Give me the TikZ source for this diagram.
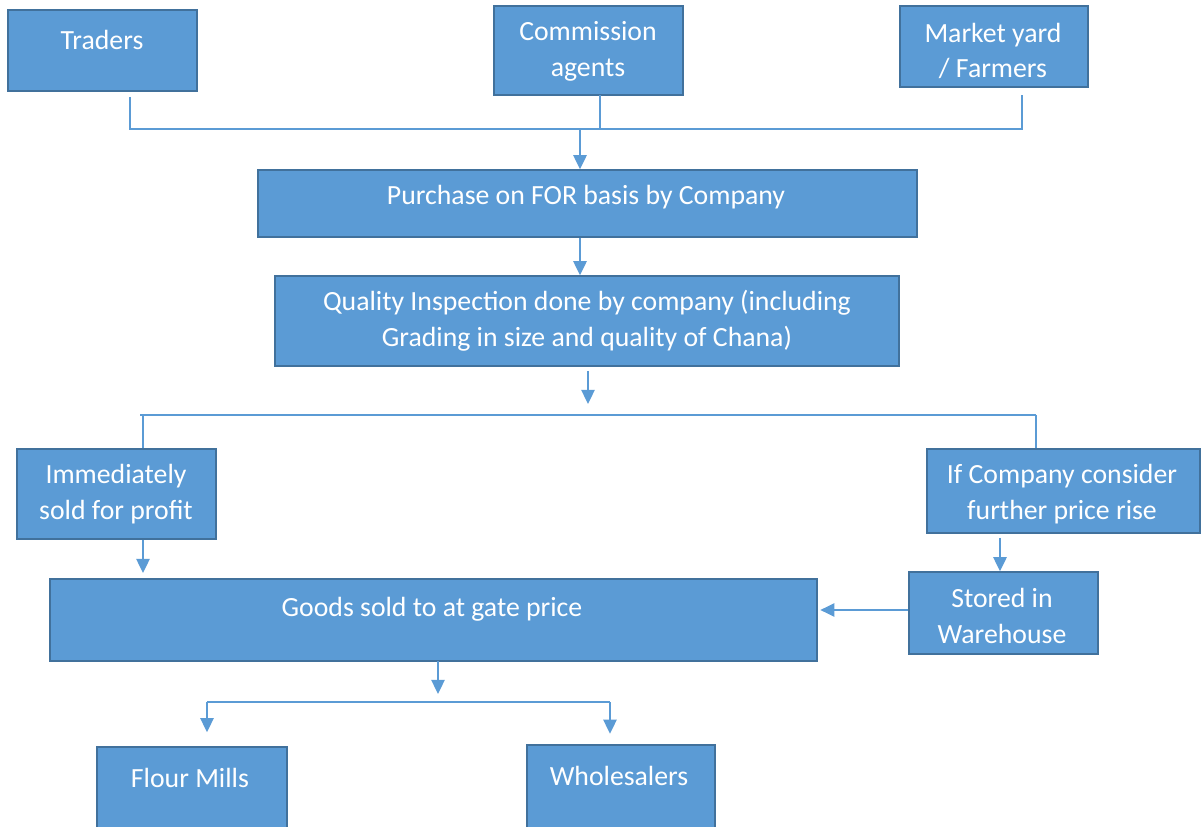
\documentclass[tikz,border=0pt]{standalone}
\usepackage{fontspec}
\setmainfont{Carlito}
\usetikzlibrary{fit,arrows.meta}
\definecolor{boxfill}{HTML}{5B9BD5}
\definecolor{boxline}{HTML}{41719C}
\definecolor{connc}{HTML}{5B9BD5}
\begin{document}
\begin{tikzpicture}[x=0.02cm,y=-0.02cm,
 box/.style={draw=boxline, fill=boxfill, line width=0.8pt, inner sep=0pt},
 txt/.style={text=white, font=\fontsize{15.8}{20.4}\selectfont, align=center, inner sep=0pt},
 conn/.style={draw=connc, line width=1.1pt},
 arr/.style={conn, -{Triangle[width=7.5pt,length=8pt]}}]
\useasboundingbox (0,0) rectangle (1201,827);
\fill[white] (0,0) rectangle (1201,827);

% boxes
\node[box, fit={(8,10) (197,91)}] (traders) {};
\node[box, fit={(494,6) (683,95)}] (comm) {};
\node[box, fit={(900,6) (1088,87)}] (market) {};
\node[box, fit={(258,170) (917,237)}] (purchase) {};
\node[box, fit={(275,276) (899,366)}] (quality) {};
\node[box, fit={(17,449) (216,539)}] (imm) {};
\node[box, fit={(927,449) (1200,533)}] (ifc) {};
\node[box, fit={(50,579) (817,661)}] (goods) {};
\node[box, fit={(909,572) (1098,654)}] (stored) {};
\node[box, fit={(97,747) (287,840)}] (flour) {};
\node[box, fit={(527,745) (715,840)}] (whole) {};

% texts
\node[txt] (traders-t) at (102,40) {Traders};
\node[txt] (comm-t) at (588,51) {Commission\\agents};
\node[txt] (market-t) at (993,51) {Market yard\\/ Farmers};
\node[txt] (purchase-t) at (586,197) {Purchase on FOR basis by Company};
\node[txt] (quality-t) at (587,321) {Quality Inspection done by company (including\\Grading in size and quality of Chana)};
\node[txt] (imm-t) at (116,494) {Immediately\\sold for profit};
\node[txt] (ifc-t) at (1062,494) {If Company consider\\further price rise};
\node[txt] (goods-t) at (432,609) {Goods sold to at gate price};
\node[txt] (stored-t) at (1002,616) {Stored in\\Warehouse};
\node[txt] (flour-t) at (190,778) {Flour Mills};
\node[txt] (whole-t) at (619,776) {Wholesalers};

% top merge
\coordinate (t1) at (130,97);
\coordinate (jl) at (130,129);
\coordinate (jr) at (1022,129);
\coordinate (m1) at (1022,95);
\coordinate (c1) at (600,95);
\coordinate (cj) at (600,129);
\coordinate (jx) at (580,129);
\draw[conn] (t1) -- (jl) -- (jr) -- (m1);
\draw[conn] (c1) -- (cj);
\draw[arr] (jx) -- (purchase.north -| jx);
\draw[arr] (purchase.south -| jx) -- (quality.north -| jx);

% split after quality
\coordinate (q1) at (588,371);
\coordinate (q2) at (588,404);
\coordinate (sl) at (140,415);
\coordinate (sr) at (1036,415);
\coordinate (sli) at (143,415);
\draw[arr] (q1) -- (q2);
\draw[conn] (sl) -- (sr);
\draw[conn] (sli) -- (imm.north -| sli);
\draw[conn] (sr) -- (ifc.north -| sr);

\draw[arr, shorten >=3pt] (imm.south -| sli) -- (goods.north -| sli);
\coordinate (fx) at (1000,538);
\draw[arr] (fx) -- (stored.north -| fx);
\draw[arr, shorten >=1.5pt] (stored.west |- goods-t) ++(0,1) coordinate (sw) -- (goods.east |- sw);

% bottom split
\coordinate (g1) at (438,661);
\coordinate (g2) at (438,694);
\coordinate (bl) at (207,702);
\coordinate (br) at (610,702);
\draw[arr] (g1) -- (g2);
\draw[conn] (bl) -- (br);
\draw[arr, shorten >=8pt] (bl) -- (flour.north -| bl);
\draw[arr, shorten >=6pt] (br) -- (whole.north -| br);
\end{tikzpicture}
\end{document}
